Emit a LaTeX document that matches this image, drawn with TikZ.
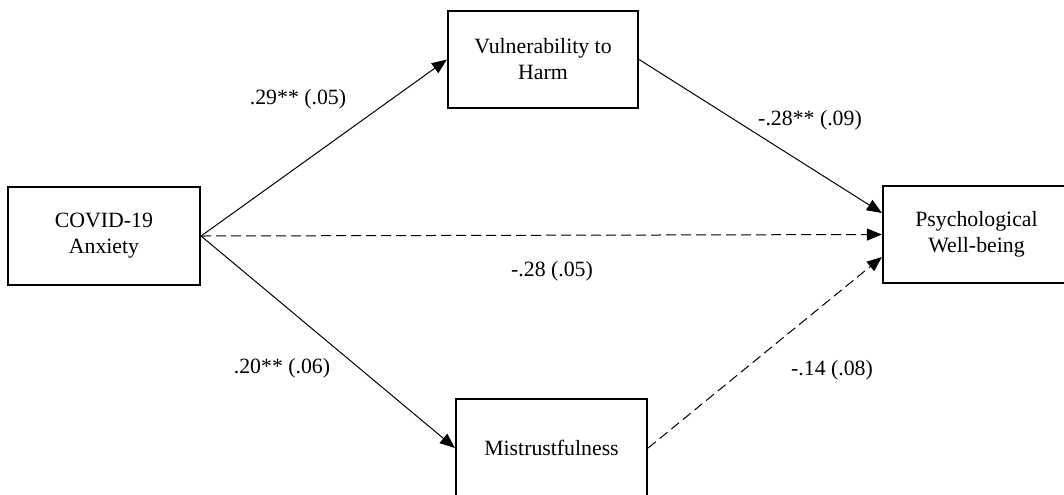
\documentclass[tikz,border=0pt]{standalone}
\usepackage{fontspec}
\setmainfont{Liberation Serif}
\usetikzlibrary{arrows.meta}
\begin{document}
\begin{tikzpicture}[x=0.5pt,y=-0.5pt,
  box/.style={draw, line width=1.1pt, inner sep=0pt, align=center, font=\fontsize{10.9}{13}\selectfont},
  lbl/.style={font=\fontsize{10.9}{13}\selectfont, inner sep=0pt},
  arr/.style={line width=0.5pt, -{Triangle[length=7.5pt,width=6pt]}},
  dsh/.style={dash pattern=on 5pt off 2.5pt}
]
\useasboundingbox (0,0) rectangle (1064,494);
\clip (0,0) rectangle (1064,494);
\node[box, minimum width=96pt, minimum height=49pt] (covid) at (104,236) {COVID-19\\Anxiety};
\node[box, minimum width=95pt, minimum height=48.5pt] (vuln) at (543,59.5) {Vulnerability to\\Harm};
\node[box, minimum width=93.5pt, minimum height=48.5pt] (psych) at (976.5,234.5) {Psychological\\Well-being};
\node[box, minimum width=95.5pt, minimum height=49pt] (mist) at (551.5,448) {Mistrustfulness};
\draw[arr] (covid.east) -- (vuln.west);
\draw[arr] (vuln.east) -- ([yshift=10.75pt]psych.west);
\draw[arr,dsh] (covid.east) -- (psych.west);
\draw[arr] (covid.east) -- (mist.west);
\draw[arr,dsh] (mist.east) -- ([yshift=-11.25pt]psych.west);
\node[lbl] (l1) at (298,99) {.29** (.05)};
\node[lbl] (l2) at (810,120) {-.28** (.09)};
\node[lbl] (l3) at (552,271) {-.28 (.05)};
\node[lbl] (l4) at (282,368) {.20** (.06)};
\node[lbl] (l5) at (832,370) {-.14 (.08)};
\end{tikzpicture}
\end{document}
